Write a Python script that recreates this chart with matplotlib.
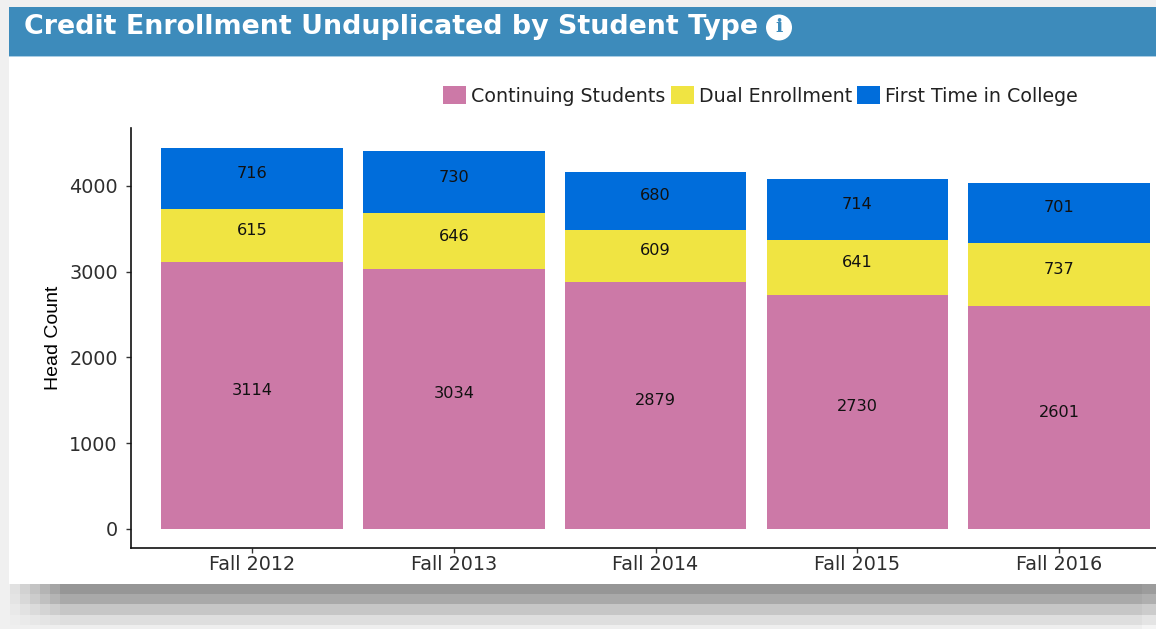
import matplotlib
matplotlib.use('Agg')
import matplotlib.pyplot as plt
from matplotlib.patches import Rectangle, Ellipse

W, H = 1156, 629

terms = ['Fall 2012', 'Fall 2013', 'Fall 2014', 'Fall 2015', 'Fall 2016']
continuing = [3114, 3034, 2879, 2730, 2601]
dual = [615, 646, 609, 641, 737]
first_time = [716, 730, 680, 714, 701]
y_ticks = [0, 1000, 2000, 3000, 4000]
title = 'Credit Enrollment Unduplicated by Student Type'

PINK, YELLOW, BLUE = '#cc79a7', '#f0e442', '#006ddb'
HEADER = '#3d8bbb'
TICK_TEXT = '#2e2e2e'


def px_rect(x0, y0, x1, y1, color, z=0):
    # rectangle in image pixels, y measured from the top
    fig.add_artist(Rectangle((x0 / W, 1 - y1 / H), (x1 - x0) / W, (y1 - y0) / H,
                             transform=fig.transFigure, facecolor=color,
                             edgecolor='none', zorder=z))


def grey_hex(level):
    return '#%02x%02x%02x' % ((int(level),) * 3)


fig = plt.figure(figsize=(W / 100, H / 100), dpi=100, facecolor='#f0f0f0')

# page around the panel
px_rect(9, 7, W, 584, 'white')
px_rect(9, 7, W, 56, HEADER)
px_rect(9, 56, W, 57, '#a9cde4')

# drop shadow under the panel, fading out at both ends
bands = [(584, 594, 150), (594, 604, 169), (604, 615, 198), (615, 625, 222), (625, 629, 238)]
for y0, y1, grey in bands:
    for step in range(7):
        level = 240 - (240 - grey) * step / 6
        x0 = 10 * step
        px_rect(x0, y0, x0 + 10 if step < 6 else 1142, y1, grey_hex(level), z=1)
    px_rect(1142, y0, W, y1, grey_hex(grey + 6), z=1)

fig.text(24 / W, 1 - 27 / H, title, color='white', family='DejaVu Sans', weight='bold',
         fontsize=19.4, va='center', ha='left', zorder=5)
fig.add_artist(Ellipse((779 / W, 1 - 27.5 / H), 26 / W, 26 / H, transform=fig.transFigure,
                       facecolor='white', edgecolor='none', zorder=5))
fig.text(779 / W, 1 - 27.5 / H, 'i', color=HEADER, family='DejaVu Serif', weight='bold',
         fontsize=14, va='center', ha='center', zorder=6)

ax = fig.add_axes([131 / W, 1 - 548 / H, (W - 131) / W, (548 - 128) / H])
ax.patch.set_alpha(0)
ax.set_zorder(3)

x = list(range(len(terms)))
ax.bar(x, continuing, width=0.9, color=PINK, label='Continuing Students')
base2 = continuing
ax.bar(x, dual, width=0.9, bottom=base2, color=YELLOW, label='Dual Enrollment')
base3 = [a + b for a, b in zip(continuing, dual)]
ax.bar(x, first_time, width=0.9, bottom=base3, color=BLUE, label='First Time in College')

for vals, base in [(continuing, [0] * 5), (dual, base2), (first_time, base3)]:
    for i, v in enumerate(vals):
        ax.annotate(str(v), (i, base[i] + v / 2), xytext=(0, 3.6), textcoords='offset points',
                    ha='center', va='center', fontsize=11.6, color='#111111')

ax.set_xlim(-0.6, 4.48)
ax.set_ylim(-221.6, 4676)
ax.set_xticks(x, terms)
ax.set_yticks(y_ticks)
ax.spines['top'].set_visible(False)
ax.spines['right'].set_visible(False)
ax.spines['left'].set_linewidth(1.2)
ax.spines['bottom'].set_linewidth(1.2)
ax.spines['left'].set_color('#111111')
ax.spines['bottom'].set_color('#111111')
ax.tick_params(axis='both', labelsize=13.8, labelcolor=TICK_TEXT, width=1, length=3.5, color='#333333')
ax.tick_params(axis='x', pad=1.5)
ax.tick_params(axis='y', pad=6)
ax.set_ylabel('Head Count', family='Liberation Sans', fontsize=14, color='black', labelpad=0)
ax.yaxis.set_label_coords((62 - 131) / (W - 131), (548 - 338) / 420)

ax.legend(loc='center left', bbox_to_anchor=((443 - 131) / (W - 131), (548 - 96) / 420),
          ncol=3, frameon=False, fontsize=13.7, labelcolor='#222222', handlelength=1.2, handleheight=1.0,
          handletextpad=0.26, columnspacing=0.3, borderpad=0, borderaxespad=0)

plt.savefig('out.png', dpi=100)
